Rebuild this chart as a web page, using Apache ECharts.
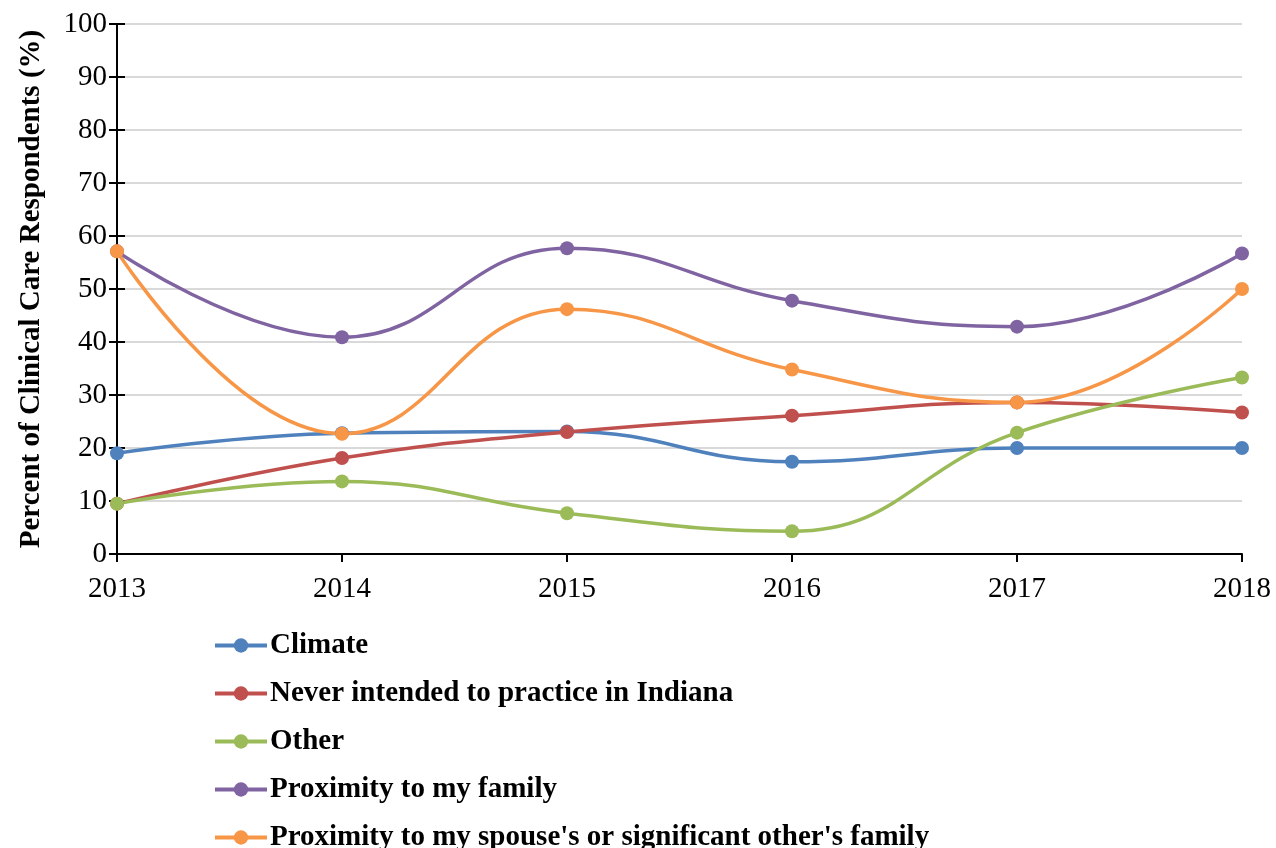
<!DOCTYPE html>
<html>
<head>
<meta charset="utf-8">
<script src="https://cdn.jsdelivr.net/npm/echarts@6/dist/echarts.min.js"></script>
<style>
  html, body { margin: 0; padding: 0; background: #ffffff; }
  #chart { width: 1276px; height: 848px; }
</style>
</head>
<body>
<div id="chart"></div>
<script>
// Survey years and percentages per reason for leaving
const years = ['2013', '2014', '2015', '2016', '2017', '2018'];
const climate = [19.0, 22.8, 23.1, 17.4, 20.0, 20.0];
const neverIntended = [9.5, 18.1, 23.0, 26.1, 28.6, 26.7];
const other = [9.5, 13.7, 7.7, 4.3, 22.9, 33.3];
const proximityFamily = [57.1, 40.9, 57.7, 47.8, 42.9, 56.7];
const proximitySpouse = [57.1, 22.7, 46.2, 34.8, 28.6, 50.0];
const yTicks = [0, 100, 10];

const seriesDefs = [
  { name: 'Climate', data: climate, color: '#4f81bd' },
  { name: 'Never intended to practice in Indiana', data: neverIntended, color: '#c0504d' },
  { name: 'Other', data: other, color: '#9bbb59' },
  { name: 'Proximity to my family', data: proximityFamily, color: '#8064a2' },
  { name: "Proximity to my spouse's or significant other's family", data: proximitySpouse, color: '#f79646' }
];

const serif = '"Liberation Serif", "Times New Roman", serif';

const chart = echarts.init(document.getElementById('chart'), null, { renderer: 'canvas' });

// one legend block per series, stacked below the plot
const legends = seriesDefs.map((s, i) => ({
  data: [s.name],
  orient: 'horizontal',
  left: 208,
  top: 626 + i * 48,
  itemWidth: 52,
  itemHeight: 18,
  itemGap: 6,
  lineStyle: { width: 4 },
  textStyle: { fontFamily: serif, fontSize: 29, fontWeight: 'bold', color: '#000', padding: [0, 0, 0, -2] }
}));

chart.setOption({
  animation: false,
  backgroundColor: '#ffffff',
  grid: { left: 117, right: 34, top: 24, bottom: 294, containLabel: false },
  legend: legends,
  xAxis: {
    type: 'category',
    data: years,
    boundaryGap: false,
    axisLine: { lineStyle: { color: '#000', width: 2 } },
    axisTick: { show: true, alignWithLabel: true, length: 8, lineStyle: { color: '#000', width: 2 } },
    axisLabel: { fontFamily: serif, fontSize: 29, color: '#000', margin: 21 },
    splitLine: { show: false }
  },
  yAxis: [
    {
      type: 'value',
      min: yTicks[0],
      max: yTicks[1],
      interval: yTicks[2],
      name: 'Percent of Clinical Care Respondents (%)',
      nameLocation: 'middle',
      nameGap: 71,
      nameTextStyle: { fontFamily: serif, fontSize: 29, fontWeight: 'bold', color: '#000' },
      axisLine: { show: true, lineStyle: { color: '#000', width: 2 } },
      axisTick: { show: true, length: 8, lineStyle: { color: '#000', width: 2 } },
      axisLabel: { fontFamily: serif, fontSize: 29, color: '#000', margin: 10 },
      splitLine: { show: true, lineStyle: { color: '#d9d9d9', width: 2 } }
    },
    {
      // inner half of the crossing tick marks
      type: 'value',
      position: 'left',
      min: yTicks[0],
      max: yTicks[1],
      interval: yTicks[2],
      axisLine: { show: false },
      axisTick: { show: true, inside: true, length: 8, lineStyle: { color: '#000', width: 2 } },
      axisLabel: { show: false },
      splitLine: { show: false }
    }
  ],
  series: seriesDefs.map(s => ({
    name: s.name,
    type: 'line',
    data: s.data,
    smooth: 0.45,
    symbol: 'circle',
    symbolSize: 14,
    lineStyle: { color: s.color, width: 3.5 },
    itemStyle: { color: s.color },
    z: 3
  }))
});
</script>
</body>
</html>
